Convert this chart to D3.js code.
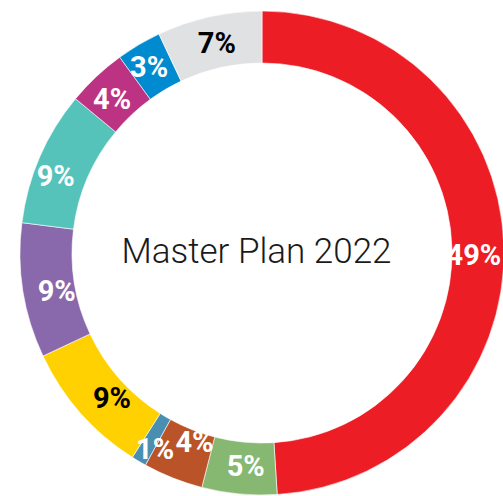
<!DOCTYPE html>
<html>
<head>
<meta charset="utf-8">
<script src="https://cdn.jsdelivr.net/npm/d3@7"></script>
<style>
  html, body { margin: 0; padding: 0; background: #ffffff; }
  svg { display: block; }
</style>
</head>
<body>
<svg id="chart" width="503" height="496"></svg>
<script>
// Share of each segment, clockwise from 12 o'clock
const segments = ["A", "B", "C", "D", "E", "F", "G", "H", "I", "J"];
const shares = [49, 5, 4, 1, 9, 9, 9, 4, 3, 7];
const colors = ["#ED1D25", "#86B872", "#BA5428", "#4A8FB1", "#FFD100",
                "#8968AC", "#56C3BA", "#BD3383", "#008ACF", "#E0E1E3"];
const labelColors = ["#ffffff", "#ffffff", "#ffffff", "#ffffff", "#000000",
                     "#ffffff", "#ffffff", "#ffffff", "#ffffff", "#000000"];
const title = "Master Plan 2022";

// Layout
const cx = 262, cy = 253;
const outerR = 242, innerR = 190;
const labelR = (outerR + innerR) / 2;
// small hand offsets so neighbouring labels do not collide
const labelShift = [[-4, 8], [4, -2], [12, -12], [3, 10], [12, 2],
                    [8, 4], [-8, 8], [-2, 3], [-3, 0], [2, 0]];

const svg = d3.select("#chart");
const g = svg.append("g").attr("transform", `translate(${cx},${cy})`);

const pie = d3.pie().value(d => d).sort(null);
const arcs = pie(shares);

const arc = d3.arc().innerRadius(innerR).outerRadius(outerR);
const labelArc = d3.arc().innerRadius(labelR).outerRadius(labelR);

g.selectAll("path.slice")
  .data(arcs)
  .join("path")
  .attr("class", "slice")
  .attr("d", arc)
  .attr("fill", (d, i) => colors[i])
  .attr("stroke", "#ffffff")
  .attr("stroke-width", 0.6);

const fs = 29;
g.selectAll("text.pct")
  .data(arcs)
  .join("text")
  .attr("class", "pct")
  .attr("x", (d, i) => labelArc.centroid(d)[0] + labelShift[i][0])
  .attr("y", (d, i) => labelArc.centroid(d)[1] + labelShift[i][1] + fs * 0.355)
  .attr("text-anchor", "middle")
  .attr("font-family", "Roboto, sans-serif")
  .attr("font-weight", 700)
  .attr("font-size", fs)
  .attr("fill", (d, i) => labelColors[i])
  .text(d => d.data + "%");

svg.append("text")
  .attr("x", 256.5)
  .attr("y", 262.5)
  .attr("text-anchor", "middle")
  .attr("font-family", "Roboto, sans-serif")
  .attr("font-weight", 300)
  .attr("font-size", 35)
  .attr("fill", "#1a1a1a")
  .text(title);
</script>
</body>
</html>
